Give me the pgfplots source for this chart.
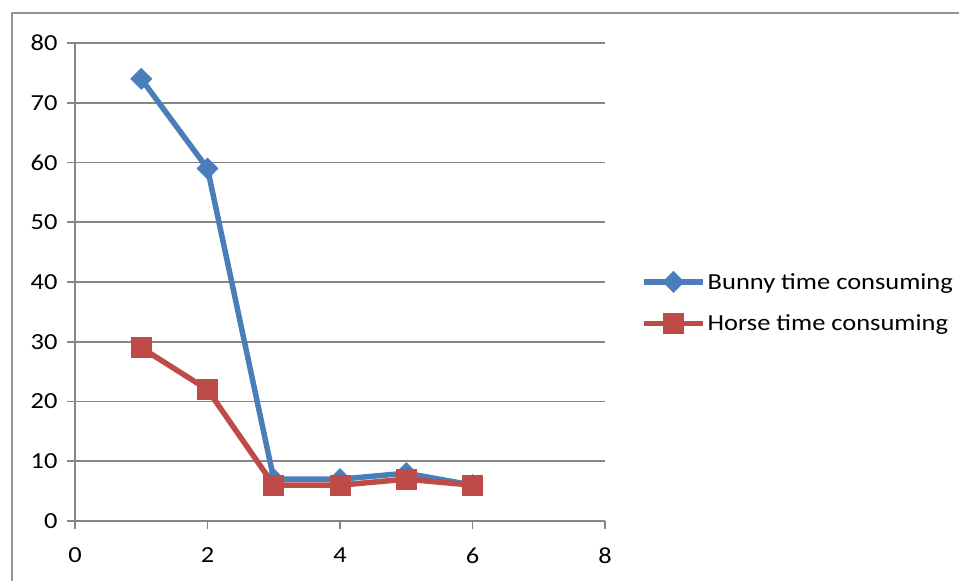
\documentclass[border=0pt]{standalone}
\usepackage{pgfplots}
\pgfplotsset{compat=1.18}
\usepackage{fontspec}
\setmainfont{Carlito}[FakeStretch=1.15]
\definecolor{bunny}{HTML}{4A7EBB}
\definecolor{horse}{HTML}{BE4B48}
\definecolor{gridc}{HTML}{868686}
\definecolor{framec}{HTML}{959595}

\pgfplotstableread{
x y
1 74
2 59
3 7
4 7
5 8
6 6
}\bunnydata

\pgfplotstableread{
x y
1 29
2 22
3 6
4 6
5 7
6 6
}\horsedata

\begin{document}
\begin{tikzpicture}[x=1pt,y=1pt]
\begin{axis}[
  scale only axis, width=530pt, height=478pt,
  xmin=0, xmax=8, ymin=0, ymax=80,
  xtick={0,2,4,6,8}, ytick={0,10,...,80},
  axis x line=bottom, axis y line=left,
  axis line style={-, gridc, line width=1.6pt},
  tick align=outside, major tick length=8pt,
  tick style={gridc, line width=1.6pt},
  ymajorgrids, grid style={gridc, line width=1.6pt},
  /pgf/number format/assume math mode=true,
  tick label style={font=\fontsize{23}{27}\selectfont, text=black},
  xticklabel style={yshift=-15pt},
  yticklabel style={xshift=-6pt},
  clip=false,
  legend style={draw=none, fill=none, at={(1.068,0.457)}, anchor=west,
    font=\fontsize{23}{27}\selectfont, row sep=20pt, inner sep=0pt,
    /tikz/every even column/.append style={column sep=0pt}},
  legend cell align=left,
  legend image code/.code={
    \draw[#1, mark repeat=2, mark phase=2] plot coordinates {(0pt,0pt) (29.5pt,0pt) (59pt,0pt)};
  },
]
\addplot[bunny, line width=5.5pt, mark=square*,
  mark size=7.5pt, mark options={rotate=45, line width=0.5pt, fill=bunny}]
  table[x=x, y=y] {\bunnydata};
\addlegendentry{Bunny time consuming}
\addplot[horse, line width=5.5pt, mark=square*,
  mark size=10pt, mark options={line width=0.5pt, fill=horse}]
  table[x=x, y=y] {\horsedata};
\addlegendentry{Horse time consuming}
\coordinate (O) at (axis cs:0,0);
\end{axis}
% chart frame, measured from the plot origin
\draw[framec, line width=2pt] ([shift={(-63pt,-70pt)}]O) -- ([shift={(-63pt,508pt)}]O) -- ([shift={(900pt,508pt)}]O);
\pgfresetboundingbox
\useasboundingbox ([shift={(-75pt,-60pt)}]O) rectangle ([shift={(884pt,521pt)}]O);
\end{tikzpicture}
\end{document}
